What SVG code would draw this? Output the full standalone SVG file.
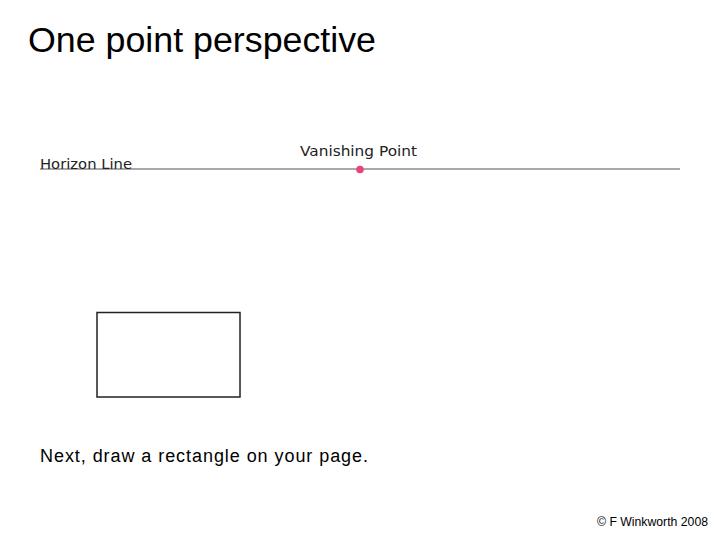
<svg xmlns="http://www.w3.org/2000/svg" width="720" height="540" viewBox="0 0 720 540">
<style>
.t{font-family:"Liberation Sans",Arial,sans-serif;fill:#000}
.g{font-family:"DejaVu Sans",sans-serif;fill:#222}
</style>
<rect width="720" height="540" fill="#fff"/>
<text class="t" x="28" y="52" font-size="35" textLength="348" lengthAdjust="spacingAndGlyphs">One point perspective</text>
<g id="horizon">
<line x1="40" y1="169" x2="680" y2="169" stroke="#555" stroke-width="1.2"/>
<text class="g" x="40" y="168.5" font-size="14" textLength="92" lengthAdjust="spacingAndGlyphs">Horizon Line</text>
</g>
<g id="vanishing-point">
<text class="g" x="300" y="156" font-size="14" textLength="117" lengthAdjust="spacingAndGlyphs">Vanishing Point</text>
<circle cx="360" cy="169.5" r="3.8" fill="#e8417e"/>
</g>
<g id="rectangle">
<rect x="97" y="312.5" width="143" height="84.5" fill="#fff" stroke="#222" stroke-width="1.5"/>
</g>
<text class="t" x="40" y="462" font-size="18" textLength="328" lengthAdjust="spacing">Next, draw a rectangle on your page.</text>
<text class="t" x="597" y="526" font-size="12.3" textLength="111" lengthAdjust="spacingAndGlyphs">© F Winkworth 2008</text>
</svg>
